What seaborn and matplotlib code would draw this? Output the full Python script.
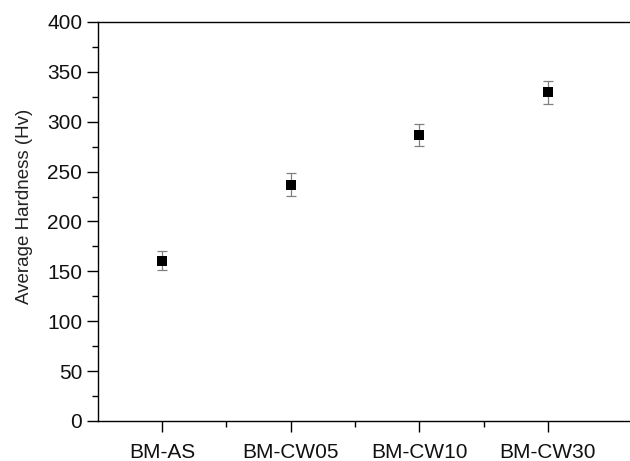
import matplotlib
matplotlib.use("Agg")
import matplotlib.pyplot as plt
from matplotlib.ticker import MultipleLocator, FixedLocator
import seaborn as sns
import numpy as np
import pandas as pd

# sample names and measured hardness (mean +/- sd)
samples = ["BM-AS", "BM-CW05", "BM-CW10", "BM-CW30"]
hardness = [160.5, 237, 286.5, 329.5]
hardness_err = [9.5, 11.5, 11, 11.5]

sns.set_style("ticks")
plt.rcParams['font.family'] = ['Liberation Sans', 'DejaVu Sans']

df = pd.DataFrame({"pos": np.arange(len(samples)), "hardness": hardness,
                   "err": hardness_err})

fig = plt.figure(figsize=(6.3, 4.61), dpi=100)
ax = fig.add_axes([0.155, 0.0868, 0.868, 0.8655])

ax.errorbar(df["pos"], df["hardness"], yerr=df["err"], fmt="none",
            ecolor="#808080", elinewidth=0.9, capsize=3.6, capthick=0.9, zorder=2)
sns.scatterplot(data=df, x="pos", y="hardness", marker="s", s=52,
                color="black", edgecolor="black", linewidth=0, ax=ax, zorder=3)

ax.set_xlim(-0.5, 3.75)
ax.set_ylim(0, 400)
ax.set_xticks(df["pos"])
ax.set_xticklabels(samples)
ax.xaxis.set_minor_locator(FixedLocator([0.5, 1.5, 2.5]))
ax.yaxis.set_major_locator(MultipleLocator(50))
ax.yaxis.set_minor_locator(MultipleLocator(25))

ax.set_xlabel("")
ax.set_ylabel("Average Hardness (Hv)", fontsize=13.5, color="#222222")
ax.yaxis.set_label_coords(-0.118, 0.539)

for s in ["left", "bottom", "top"]:
    ax.spines[s].set_linewidth(1.0)
    ax.spines[s].set_color("black")
ax.spines["right"].set_visible(False)

ax.tick_params(axis="both", which="major", direction="out", length=8, width=1.0,
               labelsize=15, color="black", labelcolor="#111111")
ax.tick_params(axis="both", which="minor", direction="out", length=4, width=1.0,
               color="black")
ax.tick_params(axis="y", pad=3)
ax.tick_params(axis="x", pad=8)

fig.savefig("out.png", dpi=100)
